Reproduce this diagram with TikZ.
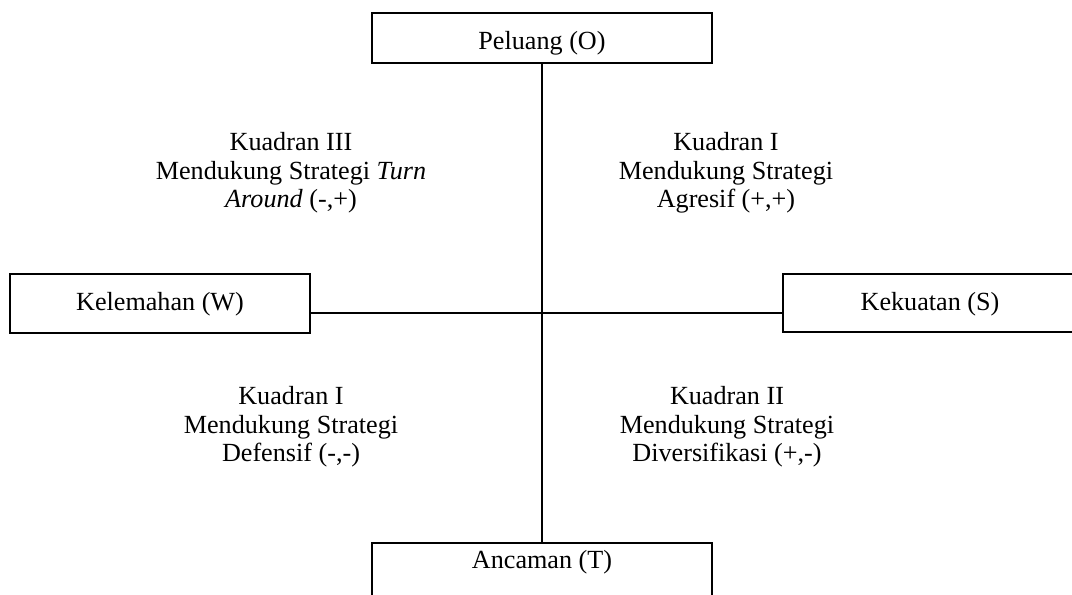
\documentclass[tikz,border=0pt]{standalone}
\usepackage{fontspec}
\setmainfont{Liberation Serif}
\begin{document}
\begin{tikzpicture}[x=0.025cm, y=-0.025cm,
    kotak/.style={draw, line width=1.2pt, inner sep=0pt, anchor=base, text height=0.9cm},
    kuadran/.style={align=center, font=\fontsize{18.6}{20.3}\selectfont}]

\useasboundingbox (0,0) rectangle (1072,594);
\clip (0,0) rectangle (1072,594);

% kotak keempat faktor SWOT
\node[kotak, minimum width=8.5cm, text depth=0.35cm] (o) at (542,49) {\fontsize{18.6}{20.3}\selectfont Peluang (O)};
\node[kotak, minimum width=7.5cm, text depth=0.575cm] (w) at (160,310) {\fontsize{18.6}{20.3}\selectfont Kelemahan (W)};
\node[kotak, minimum width=7.35cm, text depth=0.55cm] (s) at (930,310) {\fontsize{18.6}{20.3}\selectfont Kekuatan (S)};
\node[kotak, minimum width=8.5cm, text height=0.625cm, text depth=1cm] (t) at (542,568) {\fontsize{18.6}{20.3}\selectfont Ancaman (T)};

% sumbu tegak dan mendatar
\coordinate (pusat) at (542,313);
\draw[line width=1.1pt] (o.south) -- (t.north);
\draw[line width=1.1pt] (w.east |- pusat) -- (s.west |- pusat);

% teks keempat kuadran
\node[kuadran] (k3) at (291,173) {Kuadran III\\Mendukung Strategi \textit{Turn}\\\textit{Around} (-,+)};
\node[kuadran] (k1) at (726,173) {Kuadran I\\Mendukung Strategi\\Agresif (+,+)};
\node[kuadran] (k4) at (291,427) {Kuadran I\\Mendukung Strategi\\Defensif (-,-)};
\node[kuadran] (k2) at (727,427) {Kuadran II\\Mendukung Strategi\\Diversifikasi (+,-)};

\end{tikzpicture}
\end{document}
